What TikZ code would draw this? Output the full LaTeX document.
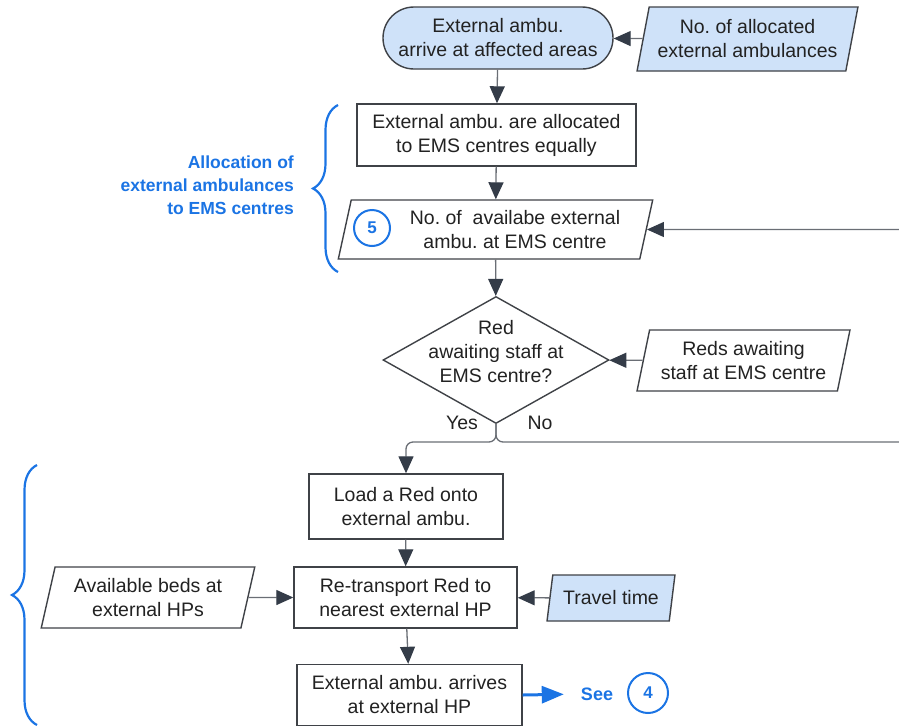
\documentclass[tikz,border=0pt]{standalone}
\usepackage{fontspec}
\setmainfont{Liberation Sans}
\usetikzlibrary{arrows.meta,shapes.geometric,shapes.misc,decorations.pathreplacing}
\definecolor{edgegray}{HTML}{3F4247}
\definecolor{linegray}{HTML}{6A6E75}
\definecolor{tipdark}{HTML}{343C48}
\definecolor{inputblue}{HTML}{CFE2F9}
\definecolor{accent}{HTML}{1B74E4}
\definecolor{txt}{HTML}{222222}
\frenchspacing
\begin{document}
\begin{tikzpicture}[x=1pt,y=-1pt,
  every node/.style={font=\fontsize{19.5}{24}\selectfont, text=txt, align=center, inner sep=0pt},
  proc/.style={draw=edgegray, line width=1.4pt, rectangle, fill=white},
  terminal/.style={draw=edgegray, line width=1.4pt, rounded rectangle, fill=inputblue},
  io/.style={draw=edgegray, line width=1.4pt, trapezium, trapezium left angle=75,
    trapezium right angle=105, trapezium stretches=true, inner sep=2pt},
  decision/.style={draw=edgegray, line width=1.4pt, diamond, inner sep=2pt},
  marker/.style={draw=accent, line width=2pt, circle, text=accent,
    font=\fontsize{17}{20}\selectfont\bfseries},
  seetext/.style={text=accent, font=\fontsize{18}{22}\selectfont\bfseries},
  grouplabel/.style={text=accent, align=right, font=\fontsize{17.5}{23}\selectfont\bfseries},
  flow/.style={draw=linegray, line width=1.3pt, -{Triangle[length=17pt,width=15pt,color=tipdark]}},
  plain/.style={draw=linegray, line width=1.3pt},
  seeflow/.style={draw=accent, line width=3pt, -{Triangle[length=22pt,width=17pt]}},
  groupbrace/.style={draw=accent, line width=2.2pt, decorate,
    decoration={brace, amplitude=25pt}},
  ]
\useasboundingbox (0,0) rectangle (899,726);

% upper part: arrival and allocation
\node[terminal, minimum width=230, minimum height=62] (arrive) at (498,38)
  {External ambu.\\arrive at affected areas};
\node[io, fill=inputblue, minimum width=221, minimum height=64] (allocno) at (747.5,39)
  {No. of allocated\\external ambulances};
\node[proc, minimum width=279, minimum height=62] (equal) at (496.5,135)
  {External ambu. are allocated\\to EMS centres equally};
\node[io, fill=white, minimum width=315, minimum height=59] (avail) at (495.5,229.5)
  {\hspace*{39pt}No. of\ \ availabe external\\\hspace*{39pt}ambu. at EMS centre};
\node[marker, minimum size=36] (five) at (372,228) {5};

% decision
\node[decision, minimum width=226, minimum height=127] (redq) at (496,360) {\strut};
\node (redqtext) at (496,352) {Red\\awaiting staff at\\EMS centre?};
\node[io, fill=white, minimum width=213, minimum height=61] (reds) at (743.5,360.5)
  {Reds awaiting\\staff at EMS centre};
\node (yes) at (462,423) {Yes};
\node (no) at (540,423) {No};

% lower part: transport
\node[proc, minimum width=194, minimum height=65] (load) at (406,506.5)
  {Load a Red onto\\external ambu.};
\node[proc, minimum width=223, minimum height=61] (retrans) at (405.5,597.5)
  {Re-transport Red to\\nearest external HP};
\node[io, fill=white, minimum width=214, minimum height=61] (beds) at (148,597.5)
  {Available beds at\\external HPs};
\node[io, fill=inputblue, minimum width=128, minimum height=46] (travel) at (611,598)
  {Travel time};
\node[proc, minimum width=225, minimum height=61] (arrives) at (409.5,695)
  {External ambu. arrives\\at external HP};
\node[seetext] (see) at (597,694) {See};
\node[marker, minimum size=40] (four) at (648,693) {4};

% group labels
\node[grouplabel, anchor=east] (grp) at (294,185)
  {Allocation of\\external ambulances\\to EMS centres};
\draw[groupbrace] (338,272) -- (338,105);
\draw[groupbrace] (37,725) -- (37,465);

% connectors
\coordinate (split) at (496,442);
\coordinate (noend) at (899,442);
\coordinate (loopin) at (899,229.5);

\draw[flow] (allocno) -- (arrive);
\draw[flow] (arrive) -- (equal);
\draw[flow] (equal) -- (avail);
\draw[flow] (avail) -- (redq);
\draw[flow] (reds) -- (redq);
\draw[flow, rounded corners=7pt] (redq.south) -- (split) -| (load.north);
\draw[plain, rounded corners=7pt] (redq.south) -- (split) -- (noend);
\draw[flow] (loopin) -- (avail);
\draw[flow] (load) -- (retrans);
\draw[flow] (beds) -- (retrans);
\draw[flow] (travel) -- (retrans);
\draw[flow] (retrans) -- (arrives);
\draw[seeflow, shorten >=17pt] (arrives.east) -- (see.west);
\end{tikzpicture}
\end{document}
